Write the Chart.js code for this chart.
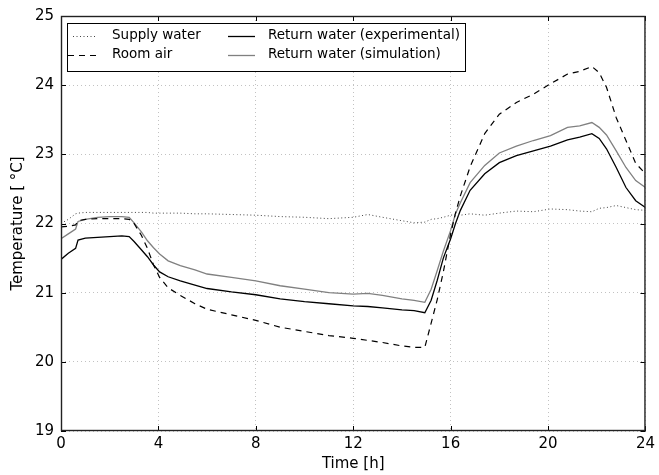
<!DOCTYPE html>
<html>
<head>
<meta charset="utf-8">
<script src="https://cdn.jsdelivr.net/npm/chart.js@4.4.1/dist/chart.umd.min.js"></script>
<style>
  body { margin: 0; background: #fff; }
  canvas { display: block; }
</style>
</head>
<body>
<canvas id="chart" width="659" height="475"></canvas>
<script>
// time of day [h], shared by all series
const hours = [0, 0.3, 0.6, 0.7, 1.0, 1.5, 2.0, 2.5, 2.8, 3.0,
    3.3, 3.55, 3.8, 4.05, 4.4, 4.9, 5.5, 6, 7, 8,
    9, 10, 11, 12, 12.6, 13.2, 14, 14.5, 14.94, 15.2,
    15.45, 15.7, 16.0, 16.2, 16.4, 16.8, 17.4, 18.0, 18.7, 19.4,
    20.1, 20.8, 21.3, 21.8, 22.1, 22.4, 22.8, 23.2, 23.6, 24]

const supplyWater = [22.0, 22.06, 22.14, 22.15, 22.16, 22.16, 22.16, 22.16, 22.16, 22.16,
    22.16, 22.16, 22.15, 22.15, 22.15, 22.15, 22.14, 22.14, 22.13, 22.12,
    22.1, 22.09, 22.07, 22.09, 22.13, 22.09, 22.04, 22.01, 22.02, 22.06,
    22.07, 22.09, 22.12, 22.13, 22.12, 22.14, 22.12, 22.15, 22.18, 22.17,
    22.21, 22.2, 22.18, 22.17, 22.22, 22.23, 22.26, 22.23, 22.2, 22.19]

const roomAir = [21.95, 21.96, 21.98, 22.04, 22.06, 22.07, 22.07, 22.07, 22.06, 22.0,
    21.83, 21.64, 21.4, 21.22, 21.07, 20.96, 20.84, 20.76, 20.68, 20.6,
    20.5, 20.44, 20.38, 20.34, 20.31, 20.28, 20.23, 20.21, 20.21, 20.56,
    20.9, 21.3, 21.85, 22.15, 22.4, 22.82, 23.3, 23.58, 23.75, 23.87,
    24.02, 24.16, 24.2, 24.27, 24.18, 23.97, 23.53, 23.2, 22.87, 22.72]

const returnExperimental = [21.48, 21.57, 21.64, 21.76, 21.79, 21.8, 21.81, 21.82, 21.81, 21.74,
    21.62, 21.52, 21.4, 21.3, 21.23, 21.17, 21.11, 21.06, 21.01, 20.97,
    20.91, 20.87, 20.84, 20.81, 20.8, 20.78, 20.75, 20.74, 20.71, 20.89,
    21.18, 21.5, 21.78, 22.0, 22.19, 22.48, 22.72, 22.88, 22.98, 23.05,
    23.12, 23.21, 23.25, 23.3, 23.23, 23.08, 22.81, 22.52, 22.33, 22.23]

const returnSimulation = [21.78, 21.85, 21.92, 22.03, 22.06, 22.09, 22.1, 22.1, 22.09, 22.01,
    21.88, 21.75, 21.65, 21.56, 21.46, 21.39, 21.33, 21.27, 21.22, 21.17,
    21.1, 21.05, 21.0, 20.98, 20.99, 20.96, 20.91, 20.89, 20.86, 21.05,
    21.32, 21.6, 21.9, 22.14, 22.3, 22.59, 22.84, 23.02, 23.12, 23.2,
    23.27, 23.39, 23.41, 23.46, 23.39, 23.28, 23.05, 22.81, 22.62, 22.52]

const FONT = 'DejaVu Sans'

function toPoints(values) {
    return hours.map((h, i) => ({x: h, y: values[i]}))
}

function makeDataset(label, values, color, width, dash) {
    return {
        label: label,
        data: toPoints(values),
        borderColor: color,
        borderWidth: width,
        borderDash: dash,
        pointRadius: 0,
        tension: 0,
        fill: false
    }
}

// matplotlib-like frame, inward ticks and the boxed two-column legend
const framePlugin = {
    id: 'frame',
    afterDatasetsDraw(chart) {
        const ctx = chart.ctx
        const a = chart.chartArea
        const xs = chart.scales.x
        const ys = chart.scales.y
        ctx.save()
        ctx.strokeStyle = '#000'
        ctx.lineWidth = 1
        ctx.setLineDash([])
        ctx.beginPath()
        xs.ticks.forEach((t) => {
            const px = Math.round(xs.getPixelForValue(t.value)) + 0.5
            ctx.moveTo(px, a.bottom); ctx.lineTo(px, a.bottom - 5)
            ctx.moveTo(px, a.top); ctx.lineTo(px, a.top + 5)
        })
        ys.ticks.forEach((t) => {
            const py = Math.round(ys.getPixelForValue(t.value)) + 0.5
            ctx.moveTo(a.left, py); ctx.lineTo(a.left + 5, py)
            ctx.moveTo(a.right, py); ctx.lineTo(a.right - 5, py)
        })
        ctx.stroke()
        ctx.strokeStyle = '#222'
        ctx.lineWidth = 1.4
        ctx.strokeRect(a.left + 0.5, a.top + 0.5, a.right - a.left - 1, a.bottom - a.top - 1)

        // legend
        const bx = a.left + 6.5, by = a.top + 7.5, bw = 398, bh = 48
        ctx.fillStyle = '#fff'
        ctx.fillRect(bx, by, bw, bh)
        ctx.lineWidth = 1
        ctx.strokeStyle = '#000'
        ctx.strokeRect(bx, by, bw, bh)

        const cols = [[0, 1], [2, 3]]
        const colX = [[a.left + 7, a.left + 36, a.left + 51], [a.left + 167, a.left + 194, a.left + 207]]
        const rowY = [a.top + 19.5, a.top + 38.5]
        ctx.font = '13.5px "' + FONT + '"'
        ctx.textBaseline = 'middle'
        cols.forEach((col, c) => {
            col.forEach((di, r) => {
                const ds = chart.data.datasets[di]
                ctx.strokeStyle = ds.borderColor
                ctx.lineWidth = ds.borderWidth
                ctx.setLineDash(ds.borderDash || [])
                ctx.beginPath()
                // the dotted sample starts a little later, as in the original
                const x0 = (di === 0) ? colX[c][0] + 5 : colX[c][0]
                ctx.moveTo(x0, Math.round(rowY[r]) + 0.5)
                ctx.lineTo(colX[c][1], Math.round(rowY[r]) + 0.5)
                ctx.stroke()
                ctx.setLineDash([])
                ctx.fillStyle = '#000'
                ctx.fillText(ds.label, colX[c][2], rowY[r])
            })
        })
        ctx.restore()
    }
}

function buildChart() {
    const ctx = document.getElementById('chart')
    const data = {
        datasets: [
            makeDataset('Supply water', supplyWater, '#444', 1, [1, 2.5]),
            makeDataset('Room air', roomAir, '#000', 1.2, [6, 5]),
            makeDataset('Return water (experimental)', returnExperimental, '#000', 1.3, []),
            makeDataset('Return water (simulation)', returnSimulation, '#808080', 1.3, [])
        ]
    }
    const gridStyle = {
        color: 'rgba(0,0,0,0.3)',
        lineWidth: 0.8,
        drawTicks: false
    }
    const config = {
        type: 'line',
        data: data,
        options: {
            responsive: false,
            animation: false,
            layout: {padding: {top: 15, right: 10, left: 0, bottom: 0}},
            plugins: {
                legend: {display: false},
                tooltip: {enabled: false}
            },
            scales: {
                x: {
                    type: 'linear',
                    min: 0,
                    max: 24,
                    grid: gridStyle,
                    border: {display: false, dash: [1, 3]},
                    ticks: {stepSize: 4, padding: 4, color: '#000', font: {family: FONT, size: 15}},
                    title: {display: true, text: 'Time [h]', color: '#000', font: {family: FONT, size: 15}, padding: {top: 0, bottom: 2}},
                    afterFit: (s) => { s.height = 44 }
                },
                y: {
                    min: 19,
                    max: 25,
                    grid: gridStyle,
                    border: {display: false, dash: [1, 3]},
                    ticks: {stepSize: 1, padding: 7, color: '#000', font: {family: FONT, size: 15}},
                    title: {display: true, text: 'Temperature [ °C]', color: '#000', font: {family: FONT, size: 15}, padding: {top: 9, bottom: 0}},
                    afterFit: (s) => { s.width = 61 }
                }
            }
        },
        plugins: [framePlugin]
    }
    return new Chart(ctx, config)
}

buildChart()
</script>
</body>
</html>
